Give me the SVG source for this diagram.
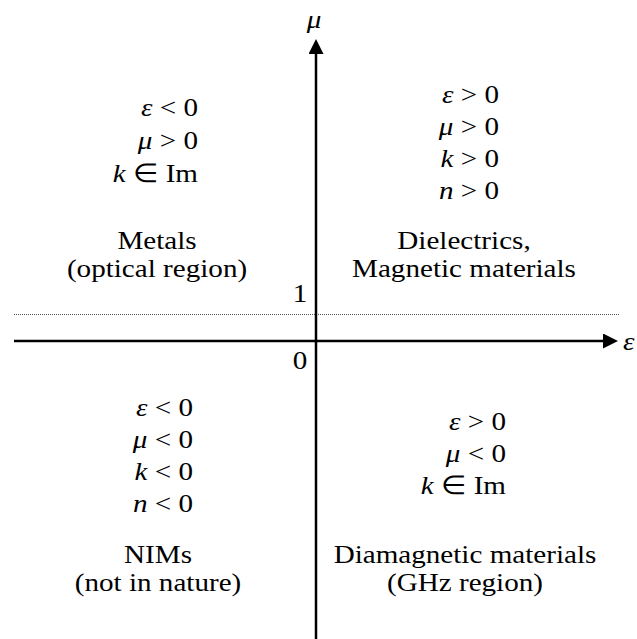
<svg xmlns="http://www.w3.org/2000/svg" width="637" height="639" viewBox="0 0 637 639">
  <defs>
    <style>
      .t { font-family: "Liberation Serif", "Times New Roman", serif; font-size: 26px; fill: #000; }
      .i { font-style: italic; }
      .e { text-anchor: end; }
      .m { text-anchor: middle; }
      .axis { stroke: #000; stroke-width: 2.5; fill: none; marker-end: url(#arrow); }
      .dot { stroke: #555; stroke-width: 1; stroke-dasharray: 1 1; fill: none; }
    </style>
    <marker id="arrow" markerUnits="userSpaceOnUse" markerWidth="15" markerHeight="15" viewBox="0 0 15 15" refX="0" refY="7.5" orient="auto">
      <path d="M0,0 L15,7.5 L0,15 Z" fill="#000"/>
    </marker>
  </defs>
  <rect width="637" height="639" fill="#fff"/>

  <g id="connectors">
    <line class="dot" x1="14" y1="314.5" x2="619" y2="314.5"/>
    <line class="axis" x1="14" y1="341" x2="603" y2="341"/>
    <line class="axis" x1="316" y1="639" x2="316" y2="54"/>
  </g>

  <g id="axis-labels">
    <text class="t i m" transform="translate(314,28) scale(1.12,1)">μ</text>
    <text class="t i" transform="translate(623,350) scale(1.12,1)">ε</text>
    <text class="t m" transform="translate(300,302) scale(1.12,1)">1</text>
    <text class="t m" transform="translate(300,369) scale(1.12,1)">0</text>
  </g>

  <g id="metals">
    <text class="t e" transform="translate(198,116) scale(1.12,1)"><tspan class="i">ε</tspan> &lt; 0</text>
    <text class="t e" transform="translate(198,149) scale(1.12,1)"><tspan class="i">μ</tspan> &gt; 0</text>
    <text class="t e" transform="translate(198,182) scale(1.12,1)"><tspan class="i">k</tspan> ∈ Im</text>
    <text class="t m" transform="translate(157,249) scale(1.12,1)">Metals</text>
    <text class="t m" transform="translate(157,277) scale(1.12,1)">(optical region)</text>
  </g>

  <g id="dielectrics">
    <text class="t e" transform="translate(499,103) scale(1.12,1)"><tspan class="i">ε</tspan> &gt; 0</text>
    <text class="t e" transform="translate(499,135) scale(1.12,1)"><tspan class="i">μ</tspan> &gt; 0</text>
    <text class="t e" transform="translate(499,167) scale(1.12,1)"><tspan class="i">k</tspan> &gt; 0</text>
    <text class="t e" transform="translate(499,199) scale(1.12,1)"><tspan class="i">n</tspan> &gt; 0</text>
    <text class="t m" transform="translate(464,249) scale(1.12,1)">Dielectrics,</text>
    <text class="t m" transform="translate(464,277) scale(1.12,1)">Magnetic materials</text>
  </g>

  <g id="nims">
    <text class="t e" transform="translate(193,416) scale(1.12,1)"><tspan class="i">ε</tspan> &lt; 0</text>
    <text class="t e" transform="translate(193,448) scale(1.12,1)"><tspan class="i">μ</tspan> &lt; 0</text>
    <text class="t e" transform="translate(193,480) scale(1.12,1)"><tspan class="i">k</tspan> &lt; 0</text>
    <text class="t e" transform="translate(193,512) scale(1.12,1)"><tspan class="i">n</tspan> &lt; 0</text>
    <text class="t m" transform="translate(158,563) scale(1.12,1)">NIMs</text>
    <text class="t m" transform="translate(158,591) scale(1.12,1)">(not in nature)</text>
  </g>

  <g id="diamagnetic">
    <text class="t e" transform="translate(506,430) scale(1.12,1)"><tspan class="i">ε</tspan> &gt; 0</text>
    <text class="t e" transform="translate(506,462) scale(1.12,1)"><tspan class="i">μ</tspan> &lt; 0</text>
    <text class="t e" transform="translate(506,494) scale(1.12,1)"><tspan class="i">k</tspan> ∈ Im</text>
    <text class="t m" transform="translate(465,563) scale(1.12,1)">Diamagnetic materials</text>
    <text class="t m" transform="translate(465,591) scale(1.12,1)">(GHz region)</text>
  </g>
</svg>
